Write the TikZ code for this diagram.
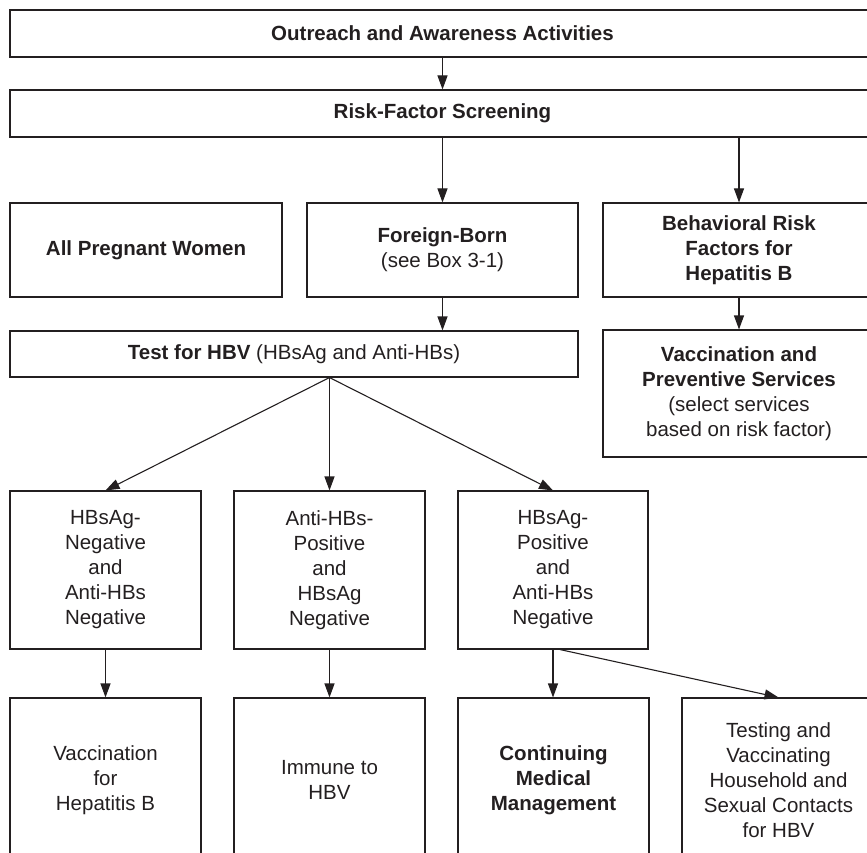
\documentclass[tikz,border=0pt]{standalone}
\usepackage{fontspec}
\setmainfont{Liberation Sans}
\usepackage{xcolor}
\usepackage{tikz}
\usetikzlibrary{arrows.meta,positioning}
\definecolor{inkGray}{HTML}{231F20}

\begin{document}
\begin{tikzpicture}[x=1pt, y=-1pt, font={\fontsize{20.5}{25}\selectfont},
  box/.style={draw=inkGray, line width=1.1pt, align=center, inner sep=0pt, text=inkGray},
  flow/.style={-{Triangle[length=14pt,width=10pt]}, draw=inkGray, line width=1.1pt}]
\useasboundingbox (0,0) rectangle (867,853);
\clip (0,0) rectangle (867,853);
% --- screening steps ---
\node[box, minimum width=865, minimum height=47] (outreach) at (442.5,33.5) {\textbf{Outreach and Awareness Activities}};
\node[box, minimum width=865, minimum height=47] (screen) at (442.5,113.5) {\textbf{Risk-Factor Screening}};
\node[box, minimum width=272, minimum height=94] (pregnant) at (146,250) {\textbf{All Pregnant Women}};
\node[box, minimum width=271, minimum height=94] (foreign) at (442.5,250) {\textbf{Foreign-Born}\\(see Box 3-1)};
\node[box, minimum width=272, minimum height=94] (behav) at (739,250) {\textbf{Behavioral Risk}\\\textbf{Factors for}\\\textbf{Hepatitis B}};
\node[box, minimum width=568, minimum height=46] (test) at (294,354) {\textbf{Test for HBV} (HBsAg and Anti-HBs)};
\node[box, minimum width=272, minimum height=127] (prevent) at (739,393.5) {\textbf{Vaccination and}\\\textbf{Preventive Services}\\(select services\\based on risk factor)};
% --- test results ---
\node[box, minimum width=191, minimum height=158] (negneg) at (105.5,570) {HBsAg-\\Negative\\and\\Anti-HBs\\Negative};
\node[box, minimum width=191, minimum height=158] (negpos) at (329.5,570) {Anti-HBs-\\Positive\\and\\HBsAg\\Negative};
\node[box, minimum width=190, minimum height=158] (pospos) at (553,570) {HBsAg-\\Positive\\and\\Anti-HBs\\Negative};
% --- follow-up ---
\node[box, minimum width=191, minimum height=164] (vaccinate) at (105.5,780) {Vaccination\\for\\Hepatitis B};
\node[box, minimum width=191, minimum height=164] (immune) at (329.5,780) {Immune to\\HBV};
\node[box, minimum width=191, minimum height=164] (manage) at (553.5,780) {\textbf{Continuing}\\\textbf{Medical}\\\textbf{Management}};
\node[box, minimum width=193, minimum height=164] (contacts) at (778.5,780) {Testing and\\Vaccinating\\Household and\\Sexual Contacts\\for HBV};
% --- arrows ---
\draw[flow] (outreach) -- (screen);
\draw[flow] (screen.south -| foreign.north) -- (foreign.north);
\draw[flow] (screen.south -| behav.north) -- (behav.north);
\draw[flow] (foreign.south) -- (foreign.south |- test.north);
\draw[flow] (behav.south) -- (prevent.north);
\coordinate (split) at (negpos.north |- test.south);
\draw[flow] (split) -- (negneg.north);
\draw[flow] (split) -- (negpos.north);
\draw[flow] (split) -- (pospos.north);
\draw[flow] (negneg) -- (vaccinate);
\draw[flow] (negpos) -- (immune);
\draw[flow] (pospos.south) -- (pospos.south |- manage.north);
\coordinate (fork) at ([xshift=7pt]pospos.south);
\draw[flow] (fork) -- (contacts.north);
\end{tikzpicture}
\end{document}
